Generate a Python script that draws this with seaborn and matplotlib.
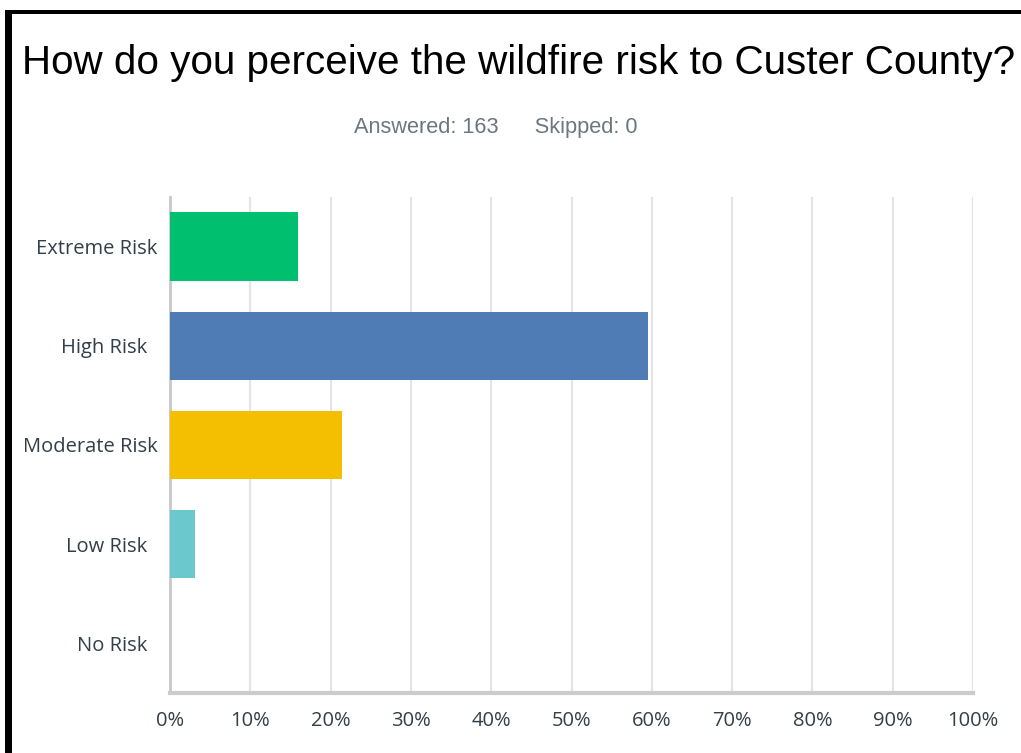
import matplotlib
matplotlib.use("Agg")
import matplotlib.pyplot as plt
from matplotlib.patches import Rectangle
import pandas as pd
import seaborn as sns

# survey answers (share of 163 respondents)
choices = ["Extreme Risk", "High Risk  ", "Moderate Risk", "Low Risk  ", "No Risk  "]
shares = [15.95, 59.51, 21.47, 3.07, 0.0]
bar_colors = ["#00bf6f", "#507cb6", "#f4bf00", "#6bc8cd", "#9da7b0"]
xticks = [0, 10, 20, 30, 40, 50, 60, 70, 80, 90, 100]
answered = 163
skipped = 0

df = pd.DataFrame({"choice": choices, "share": shares})

sns.set_style("white")
plt.rcParams["font.family"] = ["Open Sans", "DejaVu Sans"]

fig = plt.figure(figsize=(10.21, 7.53), dpi=100)
ax = fig.add_axes([0.1665, 0.0797, 0.7865, 0.6587])

sns.barplot(data=df, x="share", y="choice", hue="choice", palette=bar_colors,
            order=choices, hue_order=choices, width=0.69, legend=False,
            saturation=1, linewidth=0, ax=ax, zorder=3)

ax.set_xlim(0, 100)
ax.set_ylim(4.5, -0.5)
ax.set_xticks(xticks)
ax.set_xticklabels([f"{t}%" for t in xticks])
ax.set_xlabel("")
ax.set_ylabel("")
ax.grid(axis="x", color="#e4e4e4", linewidth=1.6, zorder=0)
ax.tick_params(axis="both", length=0, labelsize=14.5, colors="#333e48")
ax.tick_params(axis="x", pad=13)
ax.tick_params(axis="y", pad=9)

for side in ["top", "right"]:
    ax.spines[side].set_visible(False)
ax.spines["left"].set_color("#c8c8c8")
ax.spines["left"].set_linewidth(2)
ax.spines["bottom"].set_color("#cccccc")
ax.spines["bottom"].set_linewidth(3)

fig.text(0.5075, 0.916, "How do you perceive the wildfire risk to Custer County?",
         ha="center", va="center", fontsize=29.1, color="black",
         family=["Liberation Sans", "DejaVu Sans"])
fig.text(0.486, 0.831, f"Answered: {answered}      Skipped: {skipped}",
         ha="center", va="center", fontsize=15.7, color="#6b7680",
         family=["Liberation Sans", "DejaVu Sans"])

# black frame edges from the screenshot
fig.add_artist(Rectangle((0.005, 0.981), 0.995, 0.006, transform=fig.transFigure,
                         color="black", lw=0))
fig.add_artist(Rectangle((0.005, 0.0), 0.007, 0.987, transform=fig.transFigure,
                         color="black", lw=0))

fig.savefig("out.png", dpi=100)
